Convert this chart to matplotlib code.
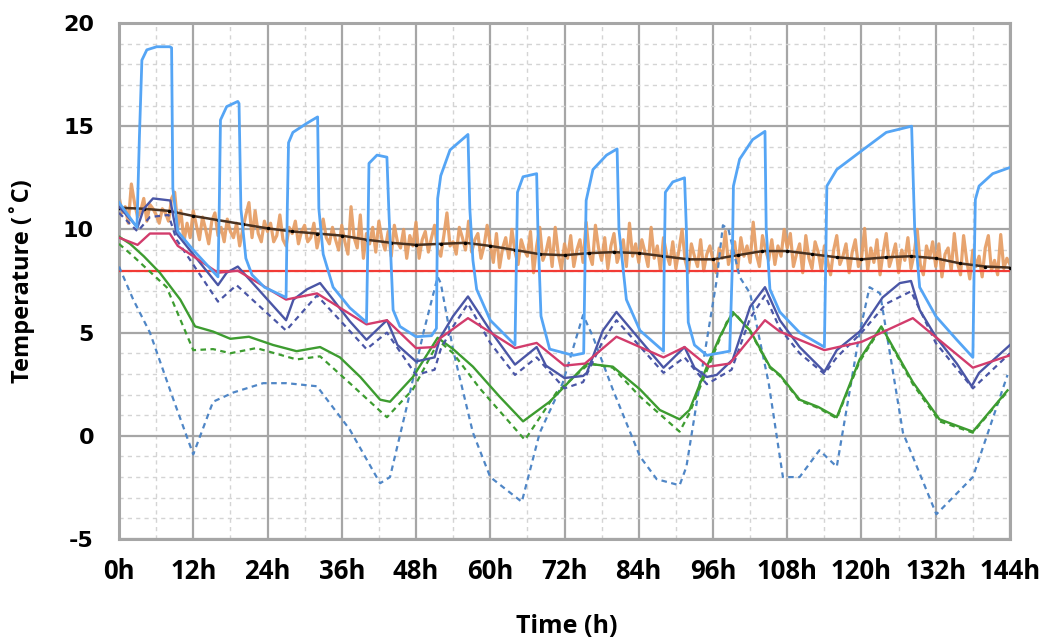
import matplotlib
matplotlib.use("Agg")
import matplotlib.pyplot as plt
from matplotlib.ticker import MultipleLocator
from matplotlib import font_manager

# ---- data (time in hours, temperature in degC) ----

# supply / heating pulses (light blue)
supply_t = [0, 2.9, 3.3, 3.7, 4.5, 6.1, 8.2, 8.5, 8.7, 9.5, 12, 16, 16.2, 16.4, 17.4, 19.2, 19.4, 19.7,
            20.5, 21.5, 23.5, 27, 27.2, 27.4, 28.1, 30.4, 32.1, 32.3, 33, 34.6, 37.3, 40, 40.2, 40.4, 41.7,
            43.3, 43.6, 44.3, 45.4, 48, 50.5, 51.3, 51.5, 52, 53.5, 56.4, 56.7, 57.2, 57.8, 60, 64, 64.2,
            64.4, 65.3, 67.5, 67.7, 68.2, 69.6, 73.4, 75.1, 75.3, 75.5, 76.6, 78.8, 80.5, 80.8, 82, 84.2,
            88, 88.1, 88.3, 89.5, 91.4, 91.7, 92, 93, 95, 98.7, 99.1, 99.3, 100.3, 102.4, 104.4, 104.6,
            105.2, 106.8, 110, 114, 114.2, 114.4, 116, 120.2, 124, 128.1, 128.6, 129.4, 132, 135.4, 138,
            138.2, 138.4, 139, 141.2, 144]
supply_T = [11.3, 10.1, 14.5, 18.2, 18.7, 18.85, 18.85, 18.8, 12.0, 9.9, 9.0, 7.7, 11.0, 15.3, 15.95, 16.2,
            16.1, 11.0, 8.6, 7.8, 7.2, 6.7, 11.0, 14.2, 14.7, 15.15, 15.45, 11.0, 8.8, 7.2, 6.2, 5.5, 9.0,
            13.2, 13.6, 13.5, 11.0, 6.1, 5.3, 4.8, 4.85, 5.2, 11.5, 12.6, 13.85, 14.6, 11.0, 8.5, 7.1, 5.6,
            4.4, 8.0, 11.8, 12.55, 12.7, 10.0, 5.8, 4.2, 3.9, 4.0, 8.0, 11.4, 12.9, 13.6, 13.9, 10.0, 6.6,
            5.1, 4.1, 8.0, 11.8, 12.3, 12.5, 10.0, 5.5, 4.4, 3.9, 4.1, 8.0, 12.1, 13.4, 14.35, 14.75, 10.0,
            7.1, 6.0, 5.0, 4.3, 8.0, 12.1, 12.9, 13.85, 14.7, 15.0, 10.0, 7.2, 5.8, 4.65, 3.8, 8.0, 11.45,
            12.1, 12.7, 13.0]

# outdoor temperature, raw (orange) sampled every half hour
outdoor_T = [
    11.6, 10.8, 11.1, 10.3, 12.2, 11.3, 10.6, 10.9, 11.5, 10.4, 11.2, 11.0, 10.7, 10.3, 11.0, 10.8, 10.4, 11.5, 11.8, 10.1, 10.9, 9.4, 10.3, 9.6,
    10.9, 10.2, 9.5, 10.6, 10.0, 9.3, 10.4, 10.8, 9.7, 10.1, 9.4, 10.5, 9.9, 9.6, 10.3, 9.2, 10.0, 10.7, 11.3, 9.6, 10.9, 9.8, 9.4, 10.4,
    9.9, 10.3, 9.4, 9.7, 10.7, 9.5, 9.2, 10.1, 9.8, 10.4, 9.3, 9.9, 10.2, 9.4, 9.6, 10.3, 9.1, 9.8, 10.5, 9.6, 9.3, 10.1, 9.5, 9.0,
    10.2, 9.4, 8.8, 11.1, 9.6, 9.1, 10.7, 8.6, 9.8, 9.3, 10.1, 8.9, 10.4, 9.5, 9.0, 9.9, 8.7, 10.2, 9.4, 9.1, 10.0, 8.6, 9.7, 9.2,
    10.35, 8.6, 9.5, 9.9, 8.9, 9.6, 10.2, 9.0, 8.7, 9.7, 10.8, 9.2, 9.4, 8.8, 10.1, 9.6, 9.0, 10.4, 8.9, 9.5, 9.8, 8.6, 9.2, 10.2,
    9.3, 8.4, 9.8, 8.15, 9.1, 9.6, 8.6, 10.0, 8.9, 8.3, 9.5, 9.0, 8.7, 9.9, 7.9, 9.2, 10.1, 8.5, 8.9, 9.6, 8.2, 10.1, 8.8, 8.05,
    9.3, 8.6, 9.7, 8.2, 9.0, 9.5, 8.4, 10.35, 8.8, 8.3, 10.2, 9.1, 8.5, 9.6, 8.1, 9.2, 9.8, 8.4, 8.9, 9.5, 8.2, 10.3, 8.7, 9.3,
    8.4, 9.5, 8.9, 8.2, 10.1, 8.6, 9.2, 8.0, 9.6, 8.8, 8.3, 9.4, 8.1, 9.0, 10.0, 8.5, 7.9, 9.3, 8.7, 8.2, 9.5, 8.0, 8.8, 9.2,
    8.5, 7.9, 9.1, 8.6, 9.9, 8.3, 8.9, 9.4, 8.1, 9.6, 8.7, 9.2, 8.4, 10.35, 8.8, 8.2, 9.7, 9.0, 8.5, 9.5, 8.3, 9.2, 8.7, 10.0,
    9.1, 9.8, 8.2, 8.8, 9.3, 7.9, 9.7, 8.6, 8.1, 9.4, 8.9, 8.0, 9.2, 8.5, 7.8, 9.0, 9.7, 8.3, 8.7, 9.3, 7.9, 8.9, 9.5, 8.2,
    8.6, 10.05, 8.0, 9.1, 8.4, 9.5, 7.8, 8.9, 9.8, 8.2, 8.7, 9.3, 7.9, 9.0, 8.5, 9.6, 8.1, 8.8, 10.0, 8.3, 7.8, 9.2, 8.6, 9.4,
    8.2, 9.3, 7.7, 8.8, 9.1, 8.0, 9.8, 8.4, 7.8, 9.7, 8.5, 7.6, 9.0, 8.2, 8.7, 7.7, 9.1, 9.7, 8.0, 8.5, 7.8, 9.75, 8.1, 8.6,
    8.3]
outdoor_t = [i * 0.5 for i in range(len(outdoor_T))]

# outdoor temperature, smoothed (dark brown)
trend_t = [0, 4, 8, 12, 16, 20, 24, 28, 32, 36, 40, 44, 48, 52, 56, 60, 64, 68, 72, 76, 80, 84, 88,
           92, 96, 100, 104, 108, 112, 116, 120, 124, 128, 132, 136, 140, 144]
trend_T = [11.05, 11.0, 10.9, 10.65, 10.45, 10.25, 10.05, 9.9, 9.8, 9.7, 9.5, 9.35, 9.25, 9.3, 9.35,
           9.2, 9.0, 8.8, 8.75, 8.85, 8.9, 8.85, 8.7, 8.55, 8.55, 8.75, 8.95, 8.95, 8.8, 8.65, 8.55,
           8.65, 8.7, 8.6, 8.35, 8.2, 8.15]

# set point (red)
setpoint_t = [0, 144]
setpoint_T = [8.0, 8.0]

# room air (crimson)
room_t = [0, 3, 5, 8.2, 9.5, 16, 19.2, 27, 32, 40, 43.3, 48, 51, 52, 56.4, 64, 67.5, 72, 75.3, 80.4,
          88, 91.4, 95.3, 98.7, 104.4, 106.8, 114, 120, 128.3, 138, 144]
room_T = [9.6, 9.25, 9.8, 9.8, 9.2, 7.9, 8.0, 6.6, 6.9, 5.4, 5.6, 4.25, 4.3, 4.75, 5.7, 4.25, 4.5,
          3.4, 3.5, 4.8, 3.8, 4.3, 3.35, 3.5, 5.6, 5.05, 4.15, 4.55, 5.7, 3.3, 3.9]

# wall surface (navy solid / navy dashed)
wall_t = [0, 3, 4, 5.5, 8.3, 9.3, 16, 17.4, 19.2, 27, 28.2, 30.4, 32.5, 34.6, 37.3, 40, 43.3, 45, 48,
          51, 51.9, 54, 56.4, 60, 64, 67.5, 69, 72, 75, 75.6, 78.2, 80.4, 88, 91.4, 93, 95, 96.6, 99.2,
          102, 104.4, 106.8, 110, 114, 116, 119.7, 123.4, 126.2, 128, 129.4, 132, 135.4, 137.8, 139, 144]
wall_T = [11.1, 10.1, 11.0, 11.5, 11.4, 9.8, 7.3, 7.9, 8.2, 5.6, 6.6, 7.1, 7.4, 6.6, 5.55, 4.65, 5.6,
          4.4, 3.6, 3.8, 4.75, 5.8, 6.75, 5.1, 3.45, 4.3, 3.4, 2.8, 2.9, 3.05, 5.1, 6.0, 3.3, 4.3, 3.3,
          2.85, 2.95, 3.7, 6.25, 7.2, 5.6, 4.3, 3.1, 4.15, 5.05, 6.7, 7.4, 7.5, 6.1, 4.8, 3.5, 2.4,
          3.05, 4.4]
wall2_t = [0, 3, 5, 8, 9.3, 16, 19, 27, 32, 40, 43.3, 48, 51, 52, 54, 56.4, 60, 64, 67.5, 72, 75,
           78.2, 80.4, 88, 91.4, 95, 99, 102, 104.4, 106.8, 110, 114, 116, 120, 124, 128, 132, 138, 144]
wall2_T = [10.8, 9.9, 10.6, 10.7, 9.5, 6.5, 7.3, 5.1, 6.8, 4.2, 5.0, 2.95, 3.2, 4.2, 5.3, 6.4, 4.5,
           2.95, 3.8, 2.3, 2.6, 4.6, 5.6, 3.05, 3.8, 2.5, 3.2, 5.7, 6.8, 5.2, 4.0, 3.0, 3.8, 5.0, 6.4,
           7.0, 4.5, 2.3, 4.0]

# floor (green solid / green dashed)
floor_t = [0, 1.8, 4, 6.6, 9.9, 12.3, 15.2, 18, 21, 24.9, 28.7, 32.5, 35.7, 39, 42.2, 43.8, 47.5,
           51.5, 54, 57.2, 61.5, 65.3, 69.6, 75.6, 79.8, 84.2, 87.4, 90.6, 92.2, 95, 97.1, 99.2, 102,
           105.2, 106.8, 110, 113, 116, 119.7, 123.2, 128.3, 132.6, 138, 143.6]
floor_T = [9.65, 9.3, 8.7, 7.9, 6.6, 5.3, 5.05, 4.7, 4.8, 4.4, 4.1, 4.3, 3.8, 2.85, 1.75, 1.65, 2.85,
           4.75, 4.2, 3.35, 1.9, 0.7, 1.65, 3.5, 3.35, 2.25, 1.25, 0.8, 1.25, 3.35, 4.8, 6.0, 5.1,
           3.35, 2.95, 1.75, 1.4, 0.9, 3.7, 5.3, 2.6, 0.8, 0.2, 2.2]
floor2_t = [0, 2.3, 7.7, 12, 15.2, 18, 22.2, 28.7, 32.5, 37.3, 43.3, 47.5, 51.7, 54, 58.3, 65.6, 70.7,
            76, 79.8, 84.2, 90.6, 92.2, 98.2, 99.5, 102, 105.2, 106.8, 110, 113, 116, 119.7, 123.2,
            128.3, 132.6, 138, 143.6]
floor2_T = [9.3, 8.7, 7.2, 4.15, 4.2, 4.0, 4.25, 3.7, 3.85, 2.55, 0.9, 2.25, 4.6, 4.0, 2.3, -0.2, 2.1,
            3.5, 3.3, 1.9, 0.2, 1.1, 5.5, 5.95, 5.05, 3.3, 2.9, 1.7, 1.35, 0.85, 3.6, 5.25, 2.5, 0.7,
            0.15, 2.15]

# ground / slab underside (steel blue dotted)
ground_t = [0, 2.3, 5, 8.8, 12, 15.2, 18.5, 23.3, 27.1, 32, 37.3, 42.2, 43.8, 46.5, 49.2, 51.5, 52,
            54, 57.2, 60, 65.1, 68, 71.7, 75, 76.6, 79.8, 84.2, 86.9, 90.6, 91.7, 94.3, 96.6, 97.6,
            98.5, 100.3, 102, 105, 107.3, 110, 113.2, 116, 119.7, 121.3, 123, 126.7, 132.1, 138, 143.6]
ground_T = [8.2, 6.6, 5.0, 1.75, -0.9, 1.65, 2.1, 2.55, 2.55, 2.4, 0.3, -2.3, -2.0, 1.4, 5.0, 7.7,
            7.4, 4.15, 0.15, -2.0, -3.2, 0.15, 2.55, 5.85, 4.8, 2.25, -1.0, -2.1, -2.4, -1.5, 3.35,
            7.55, 10.2, 10.0, 7.7, 6.9, 2.55, -2.0, -2.0, -0.7, -1.5, 5.0, 7.2, 6.9, 0.15, -3.8, -2.0,
            2.95]

x_ticks = [0, 12, 24, 36, 48, 60, 72, 84, 96, 108, 120, 132, 144]
x_tick_labels = ["0h", "12h", "24h", "36h", "48h", "60h", "72h", "84h", "96h", "108h", "120h", "132h", "144h"]
y_ticks = [-5, 0, 5, 10, 15, 20]
y_tick_labels = ["-5", "0", "5", "10", "15", "20"]

# ---- fonts ----
installed = {f.name for f in font_manager.fontManager.ttflist}
label_font = "Open Sans" if "Open Sans" in installed else "DejaVu Sans"

# ---- plot ----
fig = plt.figure(figsize=(10.5, 6.39), dpi=100)
ax = fig.add_axes([119 / 1050, 1 - 539 / 639, 891 / 1050, 516 / 639])

ax.plot(outdoor_t, outdoor_T, color="#e59a5f", lw=2.3, alpha=0.9, zorder=2)
ax.plot(trend_t, trend_T, color="#4a3220", lw=1.8, marker="o", ms=1.5, mfc="black", mec="black", zorder=3)
ax.plot(setpoint_t, setpoint_T, color="#f23b35", lw=1.6, zorder=3)
ax.plot(ground_t, ground_T, color="#4f86c6", lw=1.6, ls=(0, (2.5, 2)), zorder=4)
ax.plot(floor2_t, floor2_T, color="#3d9c30", lw=1.6, ls=(0, (2.5, 2)), zorder=4)
ax.plot(floor_t, floor_T, color="#3d9c30", lw=1.7, zorder=5)
ax.plot(wall2_t, wall2_T, color="#4a56a6", lw=1.6, ls=(0, (2.5, 2)), zorder=5)
ax.plot(wall_t, wall_T, color="#4a56a6", lw=1.7, zorder=6)
ax.plot(room_t, room_T, color="#d23c6c", lw=1.7, zorder=6)
ax.plot(supply_t, supply_T, color="#55a5f5", lw=2.0, zorder=7)

ax.set_xlim(0, 144)
ax.set_ylim(-5, 20)
ax.set_xticks(x_ticks)
ax.set_xticklabels(x_tick_labels)
ax.set_yticks(y_ticks)
ax.set_yticklabels(y_tick_labels)
ax.xaxis.set_minor_locator(MultipleLocator(6))
ax.yaxis.set_minor_locator(MultipleLocator(1))

ax.grid(which="major", color="#a6a6a6", lw=1.6, zorder=0)
ax.grid(which="minor", color="#d4d4d4", lw=1.0, ls=(0, (3, 3)), zorder=0)
ax.set_axisbelow(True)
ax.tick_params(which="both", length=0)
ax.tick_params(axis="x", pad=14)
ax.tick_params(axis="y", pad=18)
for s in ax.spines.values():
    s.set_color("#a6a6a6")
    s.set_linewidth(2.2)

for lab in ax.get_xticklabels():
    lab.set_fontfamily(label_font)
    lab.set_fontweight("bold")
    lab.set_fontsize(18.5)
for lab in ax.get_yticklabels():
    lab.set_fontfamily("DejaVu Sans")
    lab.set_fontweight("bold")
    lab.set_fontsize(16)

ax.set_xlabel("Time (h)", fontfamily=label_font, fontweight="bold", fontsize=18)
ax.set_ylabel("Temperature (\u02daC)", fontfamily=label_font, fontweight="bold", fontsize=17)
ax.xaxis.set_label_coords(0.503, -0.145)
ax.yaxis.set_label_coords(-0.094, 0.5)

fig.savefig("out.png", dpi=100)
